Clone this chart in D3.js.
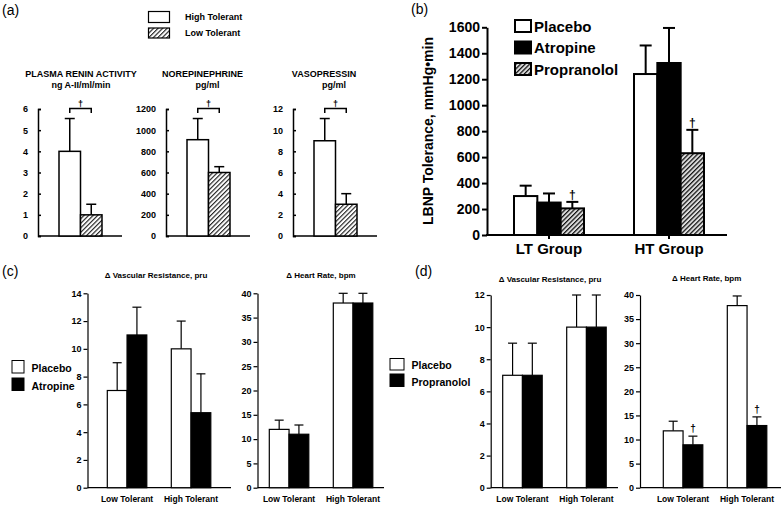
<!DOCTYPE html>
<html><head><meta charset="utf-8">
<script src="https://cdn.jsdelivr.net/npm/d3@7"></script>
<style>
body{margin:0;background:#fff}
svg{display:block}
text{font-family:"Liberation Sans",Arial,Helvetica,sans-serif;fill:#000}
</style>
</head><body>
<svg id="chart" width="782" height="510"></svg>
<script>
// ---------- DATA ----------
// Panel (a)
const aSeries = ["High Tolerant", "Low Tolerant"];
const aTitles = ["PLASMA RENIN ACTIVITY", "NOREPINEPHRINE", "VASOPRESSIN"];
const aUnits = ["ng A-II/ml/min", "pg/ml", "pg/ml"];
const aHighMean = [4, 910, 9];
const aHighSem = [1.55, 200, 2.1];
const aLowMean = [1, 600, 3];
const aLowSem = [0.5, 55, 1];
const aYMax = [6, 1200, 12];
const aTickStep = [1, 200, 2];

// Panel (b)
const bGroups = ["LT Group", "HT Group"];
const bSeries = ["Placebo", "Atropine", "Propranolol"];
const bPlacebo = [300, 1240];
const bPlaceboSem = [80, 220];
const bAtropine = [250, 1325];
const bAtropineSem = [70, 270];
const bPropranolol = [205, 630];
const bPropranololSem = [50, 180];
const bTicks = [0, 200, 400, 600, 800, 1000, 1200, 1400, 1600];

// Panels (c) and (d)
const cdGroups = ["Low Tolerant", "High Tolerant"];
const cVRPlacebo = [7, 10];
const cVRPlaceboSem = [2, 2];
const cVRAtropine = [11, 5.4];
const cVRAtropineSem = [2, 2.8];
const cHRPlacebo = [12, 38];
const cHRPlaceboSem = [1.9, 2];
const cHRAtropine = [11, 38];
const cHRAtropineSem = [1.9, 2];
const dVRPlacebo = [7, 10];
const dVRPlaceboSem = [2, 2];
const dVRPropranolol = [7, 10];
const dVRPropranololSem = [2, 2];
const dHRPlacebo = [11.8, 37.8];
const dHRPlaceboSem = [2, 2];
const dHRPropranolol = [8.9, 12.9];
const dHRPropranololSem = [1.8, 1.8];

// ---------- DRAWING ----------
const svg = d3.select("#chart");
svg.append("rect").attr("width", 782).attr("height", 510).attr("fill", "#fff");
const defs = svg.append("defs");
function hatch(id, spacing, color, bg, w) {
  const p = defs.append("pattern").attr("id", id).attr("patternUnits", "userSpaceOnUse")
    .attr("width", spacing).attr("height", spacing).attr("patternTransform", "rotate(45)");
  p.append("rect").attr("width", spacing).attr("height", spacing).attr("fill", bg);
  p.append("line").attr("x1", 0.5).attr("y1", 0).attr("x2", 0.5).attr("y2", spacing)
    .attr("stroke", color).attr("stroke-width", w);
}
hatch("hatchA", 3.2, "#222", "#fff", 1.3);
hatch("hatchB", 3.2, "#111", "#ddd", 1.5);

function label(t, x, y, size, weight, anchor) {
  return svg.append("text").attr("x", x).attr("y", y).attr("font-size", size)
    .attr("font-weight", weight || "normal").attr("text-anchor", anchor || "start")
    .attr("fill", "#000").text(t);
}
function dagger(x, y, size) {
  return svg.append("text").attr("x", x).attr("y", y).attr("font-size", size)
    .attr("font-weight", "bold").attr("text-anchor", "middle")
    .attr("font-family", "DejaVu Sans, sans-serif").attr("fill", "#000").text("\u2020");
}
function errBar(g, cx, y0, y1, cap, sw) {
  g.append("line").attr("x1", cx).attr("x2", cx).attr("y1", y0).attr("y2", y1)
    .attr("stroke", "#000").attr("stroke-width", sw);
  g.append("line").attr("x1", cx - cap / 2).attr("x2", cx + cap / 2).attr("y1", y1).attr("y2", y1)
    .attr("stroke", "#000").attr("stroke-width", sw);
}

// Panel labels
label("(a)", 2, 15, 14);
label("(b)", 411, 14, 14);
label("(c)", 2, 276, 14);
label("(d)", 415, 276, 14);

// ===== Panel (a) =====
svg.append("rect").attr("x", 148.5).attr("y", 11.5).attr("width", 21).attr("height", 11)
  .attr("fill", "#fff").attr("stroke", "#000").attr("stroke-width", 1.2);
svg.append("rect").attr("x", 148.5).attr("y", 28).attr("width", 21).attr("height", 10)
  .attr("fill", "url(#hatchA)").attr("stroke", "#000").attr("stroke-width", 1.2);
label(aSeries[0], 185, 20, 9, "bold");
label(aSeries[1], 185, 36, 9, "bold");

const aAxisX = [38, 166, 293];
const aTitleX = [81, 202.5, 324];
const aUnitX = [81, 207.5, 334];
const aBase = 236, aTop = 109;
for (let i = 0; i < 3; i++) {
  const ax0 = aAxisX[i];
  const y = d3.scaleLinear().domain([0, aYMax[i]]).range([aBase, aTop]);
  const x = d3.scaleBand().domain(aSeries).range([ax0 + 21, ax0 + 64]).padding(0);
  const g = svg.append("g");
  const axis = d3.axisLeft(y).tickValues(d3.range(0, aYMax[i] + 1e-9, aTickStep[i]))
    .tickSizeInner(-3).tickSizeOuter(-3).tickPadding(10).tickFormat(d3.format("d"));
  const ga = g.append("g").attr("transform", `translate(${ax0},0)`).call(axis);
  ga.selectAll("path,line").attr("stroke", "#000").attr("stroke-width", 1.5);
  ga.selectAll("text").attr("font-size", 9).attr("font-weight", "bold")
    .attr("font-family", "Liberation Sans, Arial, sans-serif");
  g.append("line").attr("x1", ax0).attr("x2", ax0 + 84).attr("y1", aBase).attr("y2", aBase)
    .attr("stroke", "#000").attr("stroke-width", 1.5);
  const means = [aHighMean[i], aLowMean[i]];
  const sems = [aHighSem[i], aLowSem[i]];
  aSeries.forEach((s, j) => {
    const cx = x(s) + x.bandwidth() / 2;
    errBar(g, cx, y(means[j]), y(means[j] + sems[j]), 10, 1.5);
    g.append("rect").attr("x", x(s)).attr("y", y(means[j])).attr("width", x.bandwidth())
      .attr("height", aBase - y(means[j])).attr("fill", j === 0 ? "#fff" : "url(#hatchA)")
      .attr("stroke", "#000").attr("stroke-width", 1.5);
  });
  const c1 = x(aSeries[0]) + x.bandwidth() / 2, c2 = x(aSeries[1]) + x.bandwidth() / 2;
  g.append("path").attr("d", `M${c1},113V108.5H${c2}V113`).attr("fill", "none")
    .attr("stroke", "#000").attr("stroke-width", 1.5);
  dagger((c1 + c2) / 2, 107, 9);
  label(aTitles[i], aTitleX[i], 77, 9, "bold", "middle");
  label(aUnits[i], aUnitX[i], 88, 9, "bold", "middle");
}

// ===== Panel (b) =====
{
  const bBase = 235;
  const y = d3.scaleLinear().domain([0, 1600]).range([bBase, 27.3]);
  const x0 = d3.scaleBand().domain(bGroups).range([514, 514 + 120 + 70]).paddingInner(50 / 120).paddingOuter(0);
  const x1 = d3.scaleBand().domain(bSeries).range([0, x0.bandwidth()]);
  const g = svg.append("g");
  const ga = g.append("g").attr("transform", "translate(487,0)")
    .call(d3.axisLeft(y).tickValues(bTicks).tickSize(5).tickPadding(2).tickSizeOuter(0).tickFormat(d3.format("d")));
  ga.selectAll("path,line").attr("stroke", "#000").attr("stroke-width", 2);
  ga.selectAll("text").attr("font-size", 14).attr("font-weight", "bold")
    .attr("font-family", "Liberation Sans, Arial, sans-serif");
  g.append("line").attr("x1", 486).attr("x2", 727).attr("y1", bBase).attr("y2", bBase)
    .attr("stroke", "#000").attr("stroke-width", 2);
  const vals = { Placebo: [bPlacebo, bPlaceboSem], Atropine: [bAtropine, bAtropineSem], Propranolol: [bPropranolol, bPropranololSem] };
  const fills = { Placebo: "#fff", Atropine: "#000", Propranolol: "url(#hatchB)" };
  bGroups.forEach((grp, gi) => {
    const gx = x0(grp);
    g.append("line").attr("x1", gx + x0.bandwidth() / 2).attr("x2", gx + x0.bandwidth() / 2)
      .attr("y1", bBase).attr("y2", bBase + 4).attr("stroke", "#000").attr("stroke-width", 2);
    label(grp, gx + x0.bandwidth() / 2, 254, 15, "bold", "middle");
    bSeries.forEach(s => {
      const m = vals[s][0][gi], e = vals[s][1][gi];
      const cx = gx + x1(s) + x1.bandwidth() / 2;
      errBar(g, cx, y(m), y(m + e), 12, 2);
      g.append("rect").attr("x", gx + x1(s)).attr("y", y(m)).attr("width", x1.bandwidth())
        .attr("height", bBase - y(m)).attr("fill", fills[s]).attr("stroke", "#000").attr("stroke-width", 2);
      if (s === "Propranolol") dagger(cx, y(m + e) - 3, 12);
    });
  });
  // legend
  const ly = [20, 41.5, 63];
  bSeries.forEach((s, i) => {
    svg.append("rect").attr("x", 515).attr("y", ly[i]).attr("width", 16).attr("height", 12)
      .attr("fill", fills[s]).attr("stroke", "#000").attr("stroke-width", 2);
    label(s, 534, ly[i] + 11.5, 15, "bold");
  });
  svg.append("text").attr("transform", "translate(433,131) rotate(-90)")
    .attr("text-anchor", "middle").attr("font-size", 14).attr("font-weight", "bold")
    .attr("fill", "#000").text("LBNP Tolerance, mmHg\u2022min");
}

// ===== Panels (c) and (d) =====
function drawCD(cfg) {
  const base = 487.7;
  const y = d3.scaleLinear().domain([0, cfg.max]).range([base, cfg.top]);
  const x0 = d3.scaleBand().domain(cdGroups).range([cfg.barStart, cfg.barStart + 64 + 39.5])
    .paddingInner((64 - 39.5) / 64).paddingOuter(0);
  const x1 = d3.scaleBand().domain([0, 1]).range([0, x0.bandwidth()]);
  const g = svg.append("g");
  const ga = g.append("g").attr("transform", `translate(${cfg.axisX},0)`)
    .call(d3.axisLeft(y).tickValues(d3.range(0, cfg.max + 1e-9, cfg.step)).tickSize(4).tickPadding(2).tickSizeOuter(0));
  ga.selectAll("path,line").attr("stroke", "#000").attr("stroke-width", 1.2);
  ga.selectAll("text").attr("font-size", 9).attr("font-weight", "bold")
    .attr("font-family", "Liberation Sans, Arial, sans-serif");
  g.append("line").attr("x1", cfg.axisX).attr("x2", cfg.endX).attr("y1", base).attr("y2", base)
    .attr("stroke", "#000").attr("stroke-width", 1.2);
  const fills = ["#fff", "#000"];
  cdGroups.forEach((grp, gi) => {
    const gx = x0(grp);
    label(grp, gx + x0.bandwidth() / 2, 502, 8.5, "bold", "middle");
    cfg.series.forEach((sr, si) => {
      const m = sr[0][gi], e = sr[1][gi];
      const cx = gx + x1(si) + x1.bandwidth() / 2;
      errBar(g, cx, y(m), y(m + e), 9, 1.2);
      g.append("rect").attr("x", gx + x1(si)).attr("y", y(m)).attr("width", x1.bandwidth())
        .attr("height", base - y(m)).attr("fill", fills[si]).attr("stroke", "#000").attr("stroke-width", 1.2);
      if (cfg.dagger && si === 1) dagger(cx, y(m + e) - 4, 10);
    });
  });
  label(cfg.title, cfg.titleX, cfg.titleY, 8, "bold", "middle");
}
drawCD({ axisX: 87.5, endX: 231, barStart: 107.3, top: 293.3, max: 14, step: 2,
  title: "\u0394 Vascular Resistance, pru", titleX: 156, titleY: 278,
  series: [[cVRPlacebo, cVRPlaceboSem], [cVRAtropine, cVRAtropineSem]] });
drawCD({ axisX: 257.5, endX: 384, barStart: 269.3, top: 293.3, max: 40, step: 5,
  title: "\u0394 Heart Rate, bpm", titleX: 321, titleY: 278,
  series: [[cHRPlacebo, cHRPlaceboSem], [cHRAtropine, cHRAtropineSem]] });
drawCD({ axisX: 490.7, endX: 618, barStart: 502.7, top: 295, max: 12, step: 2,
  title: "\u0394 Vascular Resistance, pru", titleX: 550, titleY: 282,
  series: [[dVRPlacebo, dVRPlaceboSem], [dVRPropranolol, dVRPropranololSem]] });
drawCD({ axisX: 640, endX: 781, barStart: 663.3, top: 295, max: 40, step: 5,
  title: "\u0394 Heart Rate, bpm", titleX: 706.7, titleY: 281, dagger: true,
  series: [[dHRPlacebo, dHRPlaceboSem], [dHRPropranolol, dHRPropranololSem]] });

// legends c / d
svg.append("rect").attr("x", 12).attr("y", 360.5).attr("width", 12).attr("height", 12.5)
  .attr("fill", "#fff").attr("stroke", "#000").attr("stroke-width", 1);
svg.append("rect").attr("x", 12).attr("y", 378).attr("width", 12).attr("height", 12.5)
  .attr("fill", "#000").attr("stroke", "#000").attr("stroke-width", 1);
label("Placebo", 31.5, 372, 10.5, "bold");
label("Atropine", 31.5, 390, 10.5, "bold");
svg.append("rect").attr("x", 390).attr("y", 358.5).attr("width", 14).attr("height", 11.5)
  .attr("fill", "#fff").attr("stroke", "#000").attr("stroke-width", 1);
svg.append("rect").attr("x", 390).attr("y", 374).attr("width", 14).attr("height", 12.5)
  .attr("fill", "#000").attr("stroke", "#000").attr("stroke-width", 1);
label("Placebo", 411.5, 369, 10.5, "bold");
label("Propranolol", 411.5, 386, 10.5, "bold");
</script>
</body></html>
